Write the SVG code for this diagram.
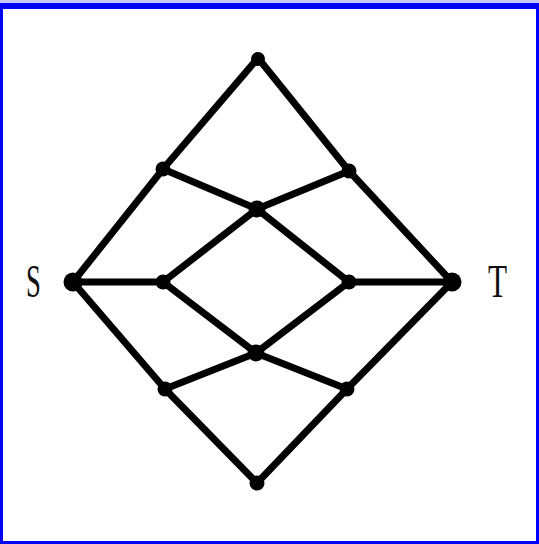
<svg xmlns="http://www.w3.org/2000/svg" width="539" height="544" viewBox="0 0 539 544">
<style>
.e{stroke:#000;stroke-width:7;stroke-linecap:round;fill:none}
.n{fill:#000}
.lbl{font-family:"Liberation Serif",serif;font-size:46px;fill:#111}
</style>
<rect x="0" y="0" width="539" height="544" fill="#fff"/>
<g id="frame" fill="#0000ff">
<rect x="0" y="0" width="539" height="3" fill="#c8c8f4"/>
<rect x="0" y="3" width="539" height="6"/>
<rect x="0" y="3" width="3" height="541"/>
<rect x="536" y="3" width="3" height="541"/>
<rect x="0" y="541" width="539" height="3"/>
</g>
<g id="connectors">
<line class="e" x1="258" y1="58" x2="163" y2="169"/>
<line class="e" x1="258" y1="58" x2="349" y2="171"/>
<line class="e" x1="163" y1="169" x2="73" y2="282"/>
<line class="e" x1="349" y1="171" x2="452" y2="282"/>
<line class="e" x1="163" y1="169" x2="257" y2="209"/>
<line class="e" x1="349" y1="171" x2="257" y2="209"/>
<line class="e" x1="257" y1="209" x2="163" y2="282"/>
<line class="e" x1="257" y1="209" x2="349" y2="282"/>
<line class="e" x1="73" y1="282" x2="163" y2="282"/>
<line class="e" x1="349" y1="282" x2="452" y2="282"/>
<line class="e" x1="163" y1="282" x2="256" y2="353"/>
<line class="e" x1="349" y1="282" x2="256" y2="353"/>
<line class="e" x1="73" y1="282" x2="165" y2="389"/>
<line class="e" x1="452" y1="282" x2="347" y2="389"/>
<line class="e" x1="165" y1="389" x2="256" y2="353"/>
<line class="e" x1="347" y1="389" x2="256" y2="353"/>
<line class="e" x1="165" y1="389" x2="257" y2="483"/>
<line class="e" x1="347" y1="389" x2="257" y2="483"/>
</g>
<g id="top"><circle class="n" cx="258" cy="59" r="7"/></g>
<g id="ul"><circle class="n" cx="163" cy="169" r="7.5"/></g>
<g id="ur"><circle class="n" cx="349" cy="171" r="7.5"/></g>
<g id="um"><circle class="n" cx="257" cy="209" r="8.5"/></g>
<g id="S"><circle class="n" cx="73" cy="282" r="9.5"/><text class="lbl" transform="translate(26,297) scale(0.58,1)">S</text></g>
<g id="li"><circle class="n" cx="163" cy="282" r="7.5"/></g>
<g id="ri"><circle class="n" cx="349" cy="282" r="7.5"/></g>
<g id="T"><circle class="n" cx="452" cy="282" r="9.5"/><text class="lbl" transform="translate(488,297) scale(0.68,1)">T</text></g>
<g id="lm"><circle class="n" cx="256" cy="353" r="8.5"/></g>
<g id="ll"><circle class="n" cx="165" cy="389" r="7.5"/></g>
<g id="lr"><circle class="n" cx="347" cy="389" r="7.5"/></g>
<g id="bottom"><circle class="n" cx="257" cy="483" r="7.5"/></g>
</svg>
